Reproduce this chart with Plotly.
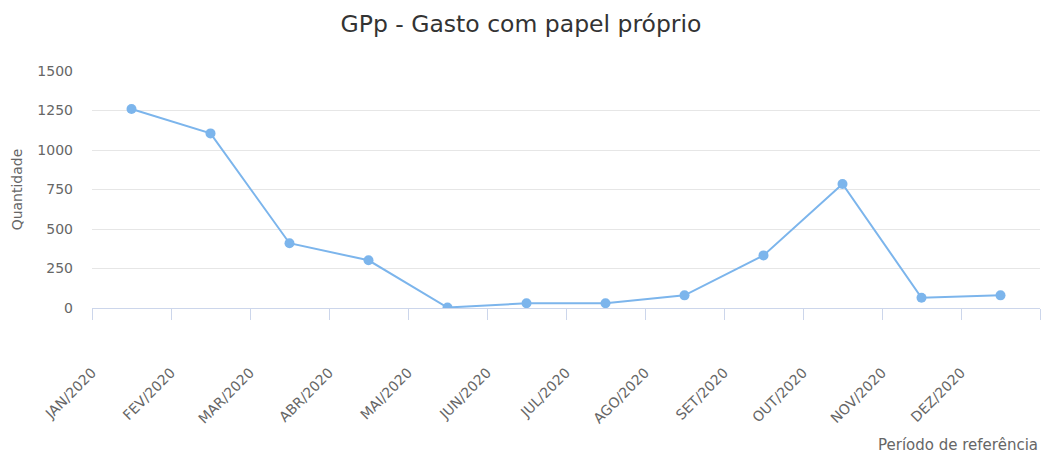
import plotly.graph_objects as go

categories = ["JAN/2020", "FEV/2020", "MAR/2020", "ABR/2020", "MAI/2020", "JUN/2020",
              "JUL/2020", "AGO/2020", "SET/2020", "OUT/2020", "NOV/2020", "DEZ/2020"]
values = [1260, 1105, 410, 302, 3, 30, 30, 80, 333, 785, 65, 80]
y_ticks = [0, 250, 500, 750, 1000, 1250, 1500]

x_pos = [i + 0.5 for i in range(len(categories))]

fig = go.Figure()
fig.add_trace(go.Scatter(
    x=x_pos, y=values, mode="lines+markers",
    line=dict(color="#7cb5ec", width=2),
    marker=dict(color="#7cb5ec", size=10),
    text=categories, hovertemplate="%{text}: %{y}<extra></extra>",
    showlegend=False,
))

font_family = "DejaVu Sans, Verdana, sans-serif"
fig.update_layout(
    width=1042, height=456,
    margin=dict(l=92, r=2, t=71, b=148),
    paper_bgcolor="white", plot_bgcolor="white",
    font=dict(family=font_family, color="#666666", size=14),
    title=dict(text="GPp - Gasto com papel próprio", x=0.5, xanchor="center",
               xref="container",
               y=1 - 24 / 456, yanchor="middle", yref="container",
               font=dict(size=23.5, color="#333333")),
    xaxis=dict(
        range=[0, len(categories)],
        tickmode="array",
        tickvals=list(range(len(categories))) + [len(categories)],
        ticktext=categories + [""],
        tickangle=-45,
        ticks="outside", ticklen=11, tickcolor="#ccd6eb", tickwidth=1,
        showline=True, linecolor="#ccd6eb", linewidth=1,
        showgrid=False, zeroline=False,
        ticklabelstandoff=39,
        tickfont=dict(size=14, color="#666666"),
        automargin=False,
        fixedrange=True,
    ),
    yaxis=dict(
        range=[0, 1500],
        tickmode="array", tickvals=y_ticks,
        showgrid=True, gridcolor="#e6e6e6", gridwidth=1,
        zeroline=False, showline=False,
        ticklabelstandoff=18,
        tickfont=dict(size=14, color="#666666"),
        title=dict(text="Quantidade", font=dict(size=14, color="#666666"), standoff=11),
        automargin=False,
        fixedrange=True,
    ),
    annotations=[dict(
        text="Período de referência", xref="paper", yref="paper",
        x=1, y=(308 - 445) / 237, xanchor="right", yanchor="middle", showarrow=False,
        font=dict(size=15, color="#666666"),
    )],
)

fig.write_html(
    "out.html",
    config={"displayModeBar": False},
    post_script="document.body.style.margin='0';document.body.style.padding='0';"
                "document.body.style.overflow='hidden';",
)
